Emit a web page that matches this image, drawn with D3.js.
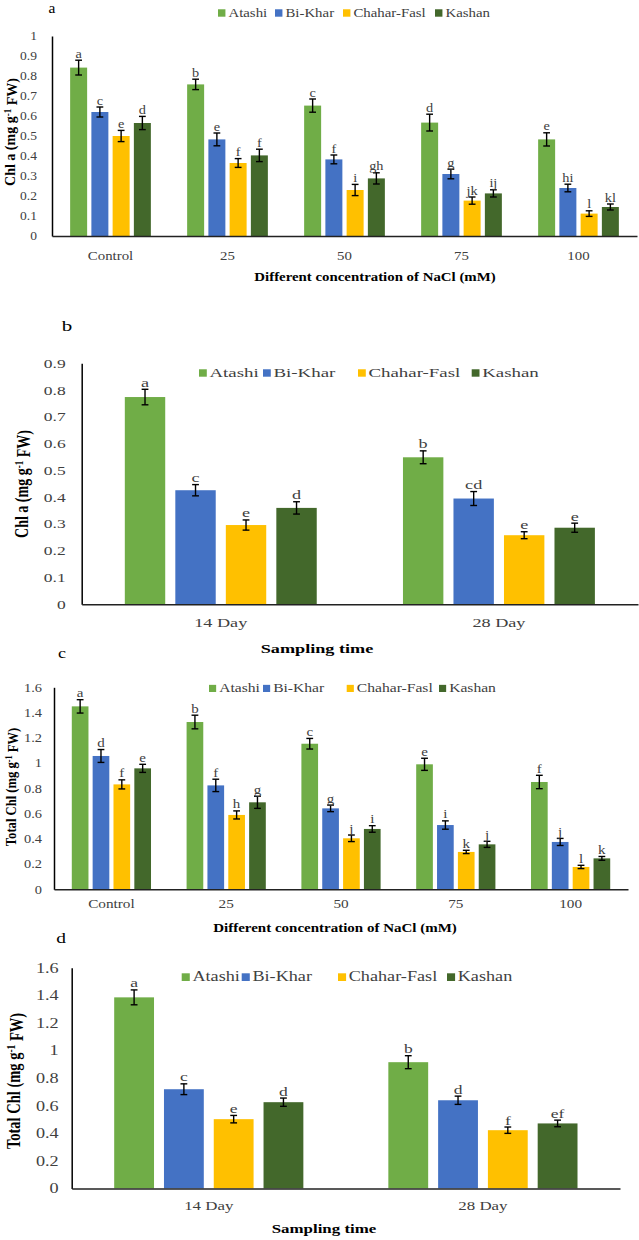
<!DOCTYPE html>
<html>
<head>
<meta charset="utf-8">
<script src="https://cdn.jsdelivr.net/npm/d3@7"></script>
<style>
  body { margin: 0; background: #fff; }
</style>
</head>
<body>
<svg id="chart" width="639" height="1240"></svg>
<script>
// ---- data ----
const cultivars = ['Atashi', 'Bi-Khar', 'Chahar-Fasl', 'Kashan'];
const naclLevels = ['Control', '25', '50', '75', '100'];
const samplingDays = ['14 Day', '28 Day'];

// Chl a by NaCl level (one row per cultivar)
const chlaNaclMean = [
  [0.842, 0.758, 0.652, 0.567, 0.483],
  [0.620, 0.483, 0.383, 0.310, 0.240],
  [0.500, 0.365, 0.230, 0.177, 0.112],
  [0.565, 0.403, 0.288, 0.213, 0.145]
];
const chlaNaclErr = [
  [0.037, 0.026, 0.033, 0.042, 0.033],
  [0.025, 0.032, 0.022, 0.024, 0.019],
  [0.028, 0.022, 0.028, 0.018, 0.014],
  [0.033, 0.031, 0.028, 0.018, 0.015]
];
const chlaNaclLetters = [
  ['a', 'b', 'c', 'd', 'e'],
  ['c', 'e', 'f', 'g', 'hi'],
  ['e', 'f', 'i', 'jk', 'l'],
  ['d', 'f', 'gh', 'ij', 'kl']
];

// Chl a by sampling time
const chlaDayMean = [
  [0.774, 0.549],
  [0.426, 0.395],
  [0.296, 0.258],
  [0.360, 0.286]
];
const chlaDayErr = [
  [0.029, 0.024],
  [0.021, 0.026],
  [0.019, 0.013],
  [0.023, 0.017]
];
const chlaDayLetters = [
  ['a', 'b'],
  ['c', 'cd'],
  ['e', 'e'],
  ['d', 'e']
];

// Total Chl by NaCl level
const totalNaclMean = [
  [1.449, 1.325, 1.153, 0.990, 0.850],
  [1.056, 0.823, 0.641, 0.509, 0.375],
  [0.831, 0.589, 0.404, 0.296, 0.177],
  [0.958, 0.689, 0.478, 0.356, 0.245]
];
const totalNaclErr = [
  [0.053, 0.054, 0.042, 0.048, 0.053],
  [0.051, 0.049, 0.026, 0.033, 0.028],
  [0.036, 0.032, 0.026, 0.013, 0.013],
  [0.032, 0.048, 0.026, 0.024, 0.015]
];
const totalNaclLetters = [
  ['a', 'b', 'c', 'e', 'f'],
  ['d', 'f', 'g', 'i', 'j'],
  ['f', 'h', 'j', 'k', 'l'],
  ['e', 'g', 'i', 'j', 'k']
];

// Total Chl by sampling time
const totalDayMean = [
  [1.385, 0.915],
  [0.719, 0.639],
  [0.502, 0.422],
  [0.625, 0.471]
];
const totalDayErr = [
  [0.054, 0.047],
  [0.039, 0.030],
  [0.027, 0.023],
  [0.030, 0.024]
];
const totalDayLetters = [
  ['a', 'b'],
  ['c', 'd'],
  ['e', 'f'],
  ['d', 'ef']
];

// ---- styles ----
const colors = ['#70ad47', '#4472c4', '#ffc000', '#43682b'];
const serif = '"Liberation Serif", "Times New Roman", serif';
const grey = '#404040';

const svg = d3.select('#chart');

// the source figure is stretched sideways, so every text gets scale(sx,1)
function addText(g, str, x, y, size, sx, opt = {}) {
  const t = g.append('text')
    .attr('transform', `translate(${x},${y}) scale(${sx},1)` + (opt.rotate ? ' rotate(-90)' : ''))
    .attr('text-anchor', opt.anchor || 'middle')
    .attr('font-family', serif)
    .attr('font-size', size)
    .attr('font-weight', opt.bold ? 'bold' : null)
    .attr('fill', opt.fill || '#000');
  if (Array.isArray(str)) {
    // [before, superscript, after]
    t.append('tspan').text(str[0]);
    t.append('tspan').attr('dy', '-0.4em').attr('font-size', size * 0.65).text(str[1]);
    t.append('tspan').attr('dy', '0.4em').text(str[2]);
  } else {
    t.text(str);
  }
  return t;
}

function drawPanel(p) {
  const g = svg.append('g');
  const sx = p.sx;

  const y = d3.scaleLinear().domain([0, p.yMax]).range([p.zeroY, p.topY]);
  const x0 = d3.scaleBand().domain(p.cats).range([p.x0, p.x1])
    .paddingInner(0.31).paddingOuter(0.155);
  const x1 = d3.scaleBand().domain(cultivars).range([0, x0.bandwidth()])
    .paddingInner(0.2);

  const rows = [];
  p.mean.forEach((vals, i) => vals.forEach((v, j) => {
    rows.push({ ci: i, cult: cultivars[i], cat: p.cats[j], v: v, e: p.err[i][j], letter: p.letters[i][j] });
  }));
  const cx = d => x0(d.cat) + x1(d.cult) + x1.bandwidth() / 2;

  // bars
  g.append('g').selectAll('rect').data(rows).join('rect')
    .attr('x', d => x0(d.cat) + x1(d.cult))
    .attr('y', d => y(d.v))
    .attr('width', x1.bandwidth())
    .attr('height', d => y(0) - y(d.v))
    .attr('fill', d => colors[d.ci]);

  // error bars
  const eb = g.append('g').attr('stroke', '#000').attr('stroke-width', 1.4);
  const capW = 3.4;
  eb.selectAll('line.v').data(rows).join('line').attr('class', 'v')
    .attr('x1', cx).attr('x2', cx)
    .attr('y1', d => y(d.v - d.e)).attr('y2', d => y(d.v + d.e));
  eb.selectAll('line.t').data(rows).join('line').attr('class', 't')
    .attr('x1', d => cx(d) - capW).attr('x2', d => cx(d) + capW)
    .attr('y1', d => y(d.v + d.e)).attr('y2', d => y(d.v + d.e));
  eb.selectAll('line.b').data(rows).join('line').attr('class', 'b')
    .attr('x1', d => cx(d) - capW).attr('x2', d => cx(d) + capW)
    .attr('y1', d => y(d.v - d.e)).attr('y2', d => y(d.v - d.e));

  // significance letters
  const lg = g.append('g');
  rows.forEach(d => addText(lg, d.letter, cx(d), y(d.v + d.e) - 2.5, p.letterSize, sx, { fill: grey }));

  // y axis
  const ticks = d3.range(0, p.yMax + 1e-9, p.step);
  const yAxis = g.append('g')
    .attr('transform', `translate(${p.x0},0)`)
    .call(d3.axisLeft(y).tickValues(ticks).tickSize(0).tickSizeOuter(0)
      .tickPadding(p.tickGap / sx)
      .tickFormat(d => String(+d.toFixed(1))));
  yAxis.select('.domain').attr('stroke', '#000').attr('stroke-width', 1.5);
  yAxis.selectAll('text')
    .attr('transform', `scale(${sx},1)`)
    .attr('font-family', serif).attr('font-size', p.tickSize).attr('fill', grey);

  // x axis
  const xAxis = g.append('g')
    .attr('transform', `translate(0,${p.zeroY})`)
    .call(d3.axisBottom(x0).tickSize(0).tickSizeOuter(0));
  xAxis.select('.domain').attr('stroke', '#222').attr('stroke-width', 1.5);
  xAxis.selectAll('text')
    .attr('y', p.catY - p.zeroY).attr('dy', 0)
    .attr('transform', `scale(${sx},1)`)
    .attr('font-family', serif).attr('font-size', p.catSize).attr('fill', grey);

  // legend
  const leg = g.append('g');
  cultivars.forEach((c, i) => {
    const mx = p.legendX[i];
    const m = p.legendSize * 0.55;
    leg.append('rect')
      .attr('x', mx).attr('y', p.legendY - m)
      .attr('width', m * (sx > 1.25 ? 1.05 : 1)).attr('height', m)
      .attr('fill', colors[i]);
    addText(leg, c, mx + m + 3, p.legendY, p.legendSize, sx, { anchor: 'start', fill: grey });
  });

  // titles
  addText(g, p.yTitle, p.yTitleX + 0.34 * p.yTitleSize * sx, p.yTitleY, p.yTitleSize, sx, { rotate: true, bold: true });
  addText(g, p.xTitle, p.xTitleX, p.xTitleY, p.xTitleSize, sx, { bold: true });
  addText(g, p.tag, p.tagX, p.tagY, p.tagSize, sx, { fill: '#000' });
}

const panels = [
  {
    tag: 'a', tagX: 52, tagY: 13, tagSize: 14,
    cats: naclLevels, mean: chlaNaclMean, err: chlaNaclErr, letters: chlaNaclLetters,
    x0: 52, x1: 637, zeroY: 236, topY: 36, yMax: 1, step: 0.1, sx: 1.1,
    tickSize: 12.3, tickGap: 15, catSize: 13.5, catY: 260, letterSize: 13,
    legendY: 16.7, legendX: [218, 275, 343, 435], legendSize: 13.5,
    yTitle: ['Chl a (mg g', '-1', ' FW)'], yTitleX: 10, yTitleY: 132, yTitleSize: 14,
    xTitle: 'Different concentration of NaCl (mM)', xTitleX: 375, xTitleY: 281, xTitleSize: 13.5
  },
  {
    tag: 'b', tagX: 67, tagY: 330.5, tagSize: 15,
    cats: samplingDays, mean: chlaDayMean, err: chlaDayErr, letters: chlaDayLetters,
    x0: 81.7, x1: 638, zeroY: 604.3, topY: 363.3, yMax: 0.9, step: 0.1, sx: 1.4,
    tickSize: 12.5, tickGap: 16, catSize: 13, catY: 627, letterSize: 13,
    legendY: 376.7, legendX: [199, 263, 358, 471.7], legendSize: 13.5,
    yTitle: ['Chl a (mg g', '-1', ' FW)'], yTitleX: 21, yTitleY: 484, yTitleSize: 14,
    xTitle: 'Sampling time', xTitleX: 317, xTitleY: 653, xTitleSize: 13
  },
  {
    tag: 'c', tagX: 62, tagY: 658, tagSize: 15,
    cats: naclLevels, mean: totalNaclMean, err: totalNaclErr, letters: totalNaclLetters,
    x0: 54, x1: 628, zeroY: 889.3, topY: 687.3, yMax: 1.6, step: 0.2, sx: 1.2,
    tickSize: 12, tickGap: 12, catSize: 12.7, catY: 908, letterSize: 12.5,
    legendY: 692, legendX: [209, 263, 346.7, 439], legendSize: 13,
    yTitle: ['Total Chl (mg g', '-1', ' FW)'], yTitleX: 10.5, yTitleY: 787, yTitleSize: 12.6,
    xTitle: 'Different concentration of NaCl (mM)', xTitleX: 335, xTitleY: 932, xTitleSize: 12.5
  },
  {
    tag: 'd', tagX: 61, tagY: 943, tagSize: 15,
    cats: samplingDays, mean: totalDayMean, err: totalDayErr, letters: totalDayLetters,
    x0: 71.7, x1: 620, zeroY: 1188.4, topY: 967.7, yMax: 1.6, step: 0.2, sx: 1.3,
    tickSize: 14, tickGap: 13, catSize: 13, catY: 1210, letterSize: 13.5,
    legendY: 981, legendX: [181.7, 241.7, 338, 447], legendSize: 14,
    yTitle: ['Total Chl (mg g', '-1', ' FW)'], yTitleX: 13.5, yTitleY: 1081, yTitleSize: 14.5,
    xTitle: 'Sampling time', xTitleX: 324, xTitleY: 1233, xTitleSize: 13
  }
];

panels.forEach(drawPanel);
</script>
</body>
</html>
